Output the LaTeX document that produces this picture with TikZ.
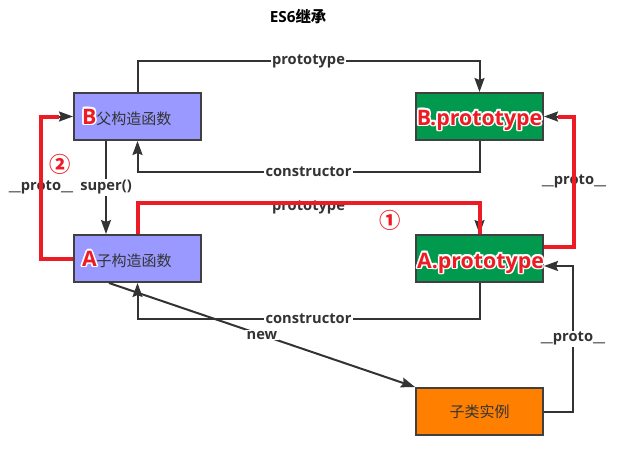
\documentclass[tikz,border=0pt]{standalone}
\usepackage{fontspec}
\setmainfont{Open Sans}
\newfontfamily\cjk{Noto Sans CJK SC}
\usetikzlibrary{arrows.meta}
\definecolor{cpurple}{HTML}{9999FF}
\definecolor{cgreen}{HTML}{00994D}
\definecolor{corange}{HTML}{FF8000}
\definecolor{cred}{HTML}{ED1C24}
\definecolor{cgrey}{HTML}{333333}
\definecolor{cedge}{HTML}{404040}
\newcommand{\tagsize}{\normalfont\bfseries\fontsize{16}{18}\selectfont}
\newcommand{\halocopy}[3]{\makebox[0pt][l]{\kern#1\raisebox{#2}{\textcolor{white}{#3}}}}
\newcommand{\redtag}[1]{%
  \halocopy{1.2pt}{0pt}{#1}\halocopy{-1.2pt}{0pt}{#1}%
  \halocopy{0pt}{1.2pt}{#1}\halocopy{0pt}{-1.2pt}{#1}%
  \halocopy{.85pt}{.85pt}{#1}\halocopy{-.85pt}{.85pt}{#1}%
  \halocopy{.85pt}{-.85pt}{#1}\halocopy{-.85pt}{-.85pt}{#1}%
  \textcolor{cred}{#1}}
\tikzset{
  box/.style={draw=cedge, fill=#1, line width=1.5pt, minimum width=95.25pt, minimum height=35.25pt,
    inner sep=0pt, text=cgrey, font=\cjk\fontsize{11.25}{13}\selectfont},
  ctor/.style={box=cpurple, align=left, text width=83.25pt, inner xsep=6pt},
  link/.style={draw=cgrey, line width=1.5pt, -{Stealth[length=10.5pt, width=7.5pt, inset=1.5pt]}},
  redline/.style={draw=cred, line width=3pt},
  lbl/.style={fill=white, inner sep=1pt, text=cgrey, font=\bfseries\fontsize{11}{13}\selectfont},
  tag/.style={inner sep=0pt, font=\tagsize},
  numtag/.style={inner sep=0pt, font=\cjk\bfseries\fontsize{16}{18}\selectfont},
}

\begin{document}
\begin{tikzpicture}[x=0.75pt, y=-0.75pt]
  \useasboundingbox (0,0) rectangle (618,451);
  \node[font=\bfseries\fontsize{11.5}{13}\selectfont] (title) at (298,17) {ES6{\cjk 继承}};
  \node[ctor] (B) at (137.5,116.5) {{\tagsize\redtag{B}}父构造函数};
  \node[box=cgreen] (bp) at (479.5,116.5) {};
  \node[ctor] (A) at (137.5,258.5) {{\tagsize\redtag{A}}子构造函数};
  \node[box=cgreen] (ap) at (479.5,258.5) {};
  \node[box=corange] (obj) at (479.5,411.5) {子类实例};
  \draw[link] (B.north) -- ++(0,-31) -| node[lbl, pos=.25] (l1) {prototype} (bp.north);
  \draw[link] (bp.south) -- ++(0,31) -| node[lbl, pos=.25] (l2) {constructor} (B.south);
  \draw[link] ([xshift=24.75pt]B.south west) -- node[lbl] (l3) {super()} ([xshift=24.75pt]A.north west);
  \draw[link] (A.north) -- ++(0,-31) -| node[lbl, pos=.25, yshift=-3pt] (l4) {prototype} (ap.north);
  \draw[link] (ap.south) -- ++(0,36) -| node[lbl, pos=.25] (l5) {constructor} (A.south);
  \draw[link] ([xshift=27pt]A.south west) -- node[lbl] (l6) {new} (obj.north west);
  \draw[link] (obj.east) -- ++(29,0) |- node[lbl, pos=.25] (l7) {\_\_proto\_\_} ([yshift=-5.6pt]ap.east);
  \draw[link] (A.west) -- ++(-32,0) |- node[lbl, pos=.25] (l8) {\_\_proto\_\_} (B.west);
  \draw[link] ([yshift=8.6pt]ap.east) -- ++(30,0) |- node[lbl, pos=.25] (l9) {\_\_proto\_\_} (bp.east);
  \draw[redline] (A.north) -- ++(0,-31) -| (ap.north);
  \draw[redline, shorten >=10.5pt] (A.west) -- ++(-32,0) |- (B.west);
  \draw[redline, shorten >=10.5pt] ([yshift=8.6pt]ap.east) -- ++(30,0) |- (bp.east);
  \node[tag, anchor=base] (bpt) at (479.5,125) {\redtag{B.prototype}};
  \node[tag, anchor=base] (apt) at (480.5,268) {\redtag{A.prototype}};
  \node[numtag] (n1) at (390,220) {\redtag{①}};
  \node[numtag] (n2) at (60,164) {\redtag{②}};
\end{tikzpicture}
\end{document}
